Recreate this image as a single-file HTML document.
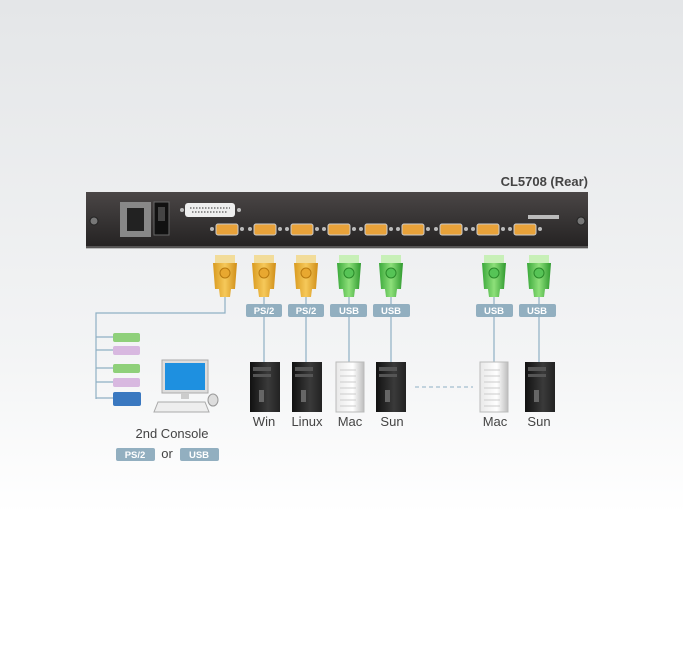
<!DOCTYPE html>
<html><head><style>
body{margin:0;width:683px;height:642px;overflow:hidden;font-family:"Liberation Sans",sans-serif}
</style></head><body>
<svg width="683" height="642" xmlns="http://www.w3.org/2000/svg" font-family="Liberation Sans, sans-serif">
<defs>
<linearGradient id="bg" x1="0" y1="0" x2="0" y2="1">
<stop offset="0" stop-color="#e4e6e8"/><stop offset="0.55" stop-color="#f3f4f5"/><stop offset="0.8" stop-color="#ffffff"/></linearGradient>
<linearGradient id="pn" x1="0" y1="0" x2="0" y2="1"><stop offset="0" stop-color="#4a4646"/><stop offset="1" stop-color="#242222"/></linearGradient>
<linearGradient id="or" x1="0" y1="0" x2="1" y2="0"><stop offset="0" stop-color="#d99a20"/><stop offset="0.5" stop-color="#f6c95a"/><stop offset="1" stop-color="#d08e18"/></linearGradient>
<linearGradient id="gr" x1="0" y1="0" x2="1" y2="0"><stop offset="0" stop-color="#3aa83a"/><stop offset="0.5" stop-color="#8ee07a"/><stop offset="1" stop-color="#2f9a2f"/></linearGradient>
<linearGradient id="pc" x1="0" y1="0" x2="1" y2="0"><stop offset="0" stop-color="#111"/><stop offset="0.6" stop-color="#3a3a3a"/><stop offset="1" stop-color="#222"/></linearGradient>
<linearGradient id="mac" x1="0" y1="0" x2="1" y2="0"><stop offset="0" stop-color="#e8e8e8"/><stop offset="0.6" stop-color="#ffffff"/><stop offset="1" stop-color="#bdbdbd"/></linearGradient>
<g id="port"><rect x="-11" y="-5" width="22" height="11" rx="2" fill="#e8a23a" stroke="#ccc" stroke-width="1"/><circle cx="-15" cy="0" r="2" fill="#bbb"/><circle cx="15" cy="0" r="2" fill="#bbb"/></g>
<g id="conO"><rect x="-10" y="0" width="20" height="8" fill="#f2dc9a"/><path d="M-12 8 H12 L10 34 H6 L5 42 H-5 L-6 34 H-10 Z" fill="url(#or)"/><circle cx="0" cy="18" r="5" fill="#e8a830" stroke="#b87a10"/></g>
<g id="conG"><rect x="-10" y="0" width="20" height="8" fill="#c8f0b8"/><path d="M-12 8 H12 L10 34 H6 L5 42 H-5 L-6 34 H-10 Z" fill="url(#gr)"/><circle cx="0" cy="18" r="5" fill="#56c456" stroke="#2a8a2a"/></g>
<g id="pcB"><rect x="0" y="0" width="30" height="50" fill="url(#pc)"/><rect x="3" y="5" width="18" height="4" fill="#555"/><rect x="3" y="12" width="18" height="3" fill="#555"/><rect x="9" y="28" width="5" height="12" fill="#666"/></g>
<g id="pcM"><rect x="0" y="0" width="28" height="50" fill="url(#mac)" stroke="#bbb"/><path d="M4 8 H20 M4 14 H20 M4 20 H20 M4 26 H20 M4 32 H20 M4 38 H20 M4 44 H20" stroke="#ccc"/></g>
</defs>
<rect width="683" height="642" fill="url(#bg)"/>
<text x="588" y="186" text-anchor="end" font-size="13" font-weight="bold" fill="#444">CL5708 (Rear)</text>
<rect x="86" y="192" width="502" height="56" fill="url(#pn)"/>
<rect x="86" y="246" width="502" height="3" fill="#888" opacity="0.5"/>
<circle cx="94" cy="221" r="4" fill="#777" stroke="#222"/><circle cx="581" cy="221" r="4" fill="#777" stroke="#222"/>
<rect x="120" y="202" width="31" height="35" fill="#888"/><rect x="127" y="208" width="17" height="23" fill="#222"/>
<rect x="154" y="202" width="15" height="33" fill="#111" stroke="#666"/><rect x="158" y="207" width="7" height="14" fill="#444"/>
<rect x="185" y="203" width="50" height="14" rx="3" fill="#eee"/><path d="M190 208 H230 M192 212 H228" stroke="#333" stroke-dasharray="1.5 1.5"/>
<circle cx="182" cy="210" r="2" fill="#bbb"/><circle cx="239" cy="210" r="2" fill="#bbb"/>
<use href="#port" x="227" y="229"/><use href="#port" x="265" y="229"/><use href="#port" x="302" y="229"/><use href="#port" x="339" y="229"/><use href="#port" x="376" y="229"/><use href="#port" x="413" y="229"/><use href="#port" x="451" y="229"/><use href="#port" x="488" y="229"/><use href="#port" x="525" y="229"/>
<rect x="528" y="215" width="31" height="4" fill="#bbb"/>
<g stroke="#8fb0c4" stroke-width="1.2" fill="none">
<path d="M225 297 V313 H96 V399"/>
<path d="M96 337 H113 M96 350 H113 M96 368 H113 M96 382 H113 M96 398 H113"/>
<path d="M264 297 V362 M306 297 V362 M349 297 V362 M391 297 V362 M494 297 V362 M539 297 V362"/>
</g>
<path d="M415 387 H473" stroke="#8fb0c4" stroke-dasharray="4 3"/>
<use href="#conO" x="225" y="255"/><use href="#conO" x="264" y="255"/><use href="#conO" x="306" y="255"/>
<use href="#conG" x="349" y="255"/><use href="#conG" x="391" y="255"/><use href="#conG" x="494" y="255"/><use href="#conG" x="539" y="255"/>
<g font-size="9.5" font-weight="bold" fill="#fff" text-anchor="middle">
<rect x="246" y="304" width="36" height="13" rx="2" fill="#92afc0"/><text x="264" y="314">PS/2</text>
<rect x="288" y="304" width="36" height="13" rx="2" fill="#92afc0"/><text x="306" y="314">PS/2</text>
<rect x="330" y="304" width="37" height="13" rx="2" fill="#92afc0"/><text x="349" y="314">USB</text>
<rect x="373" y="304" width="37" height="13" rx="2" fill="#92afc0"/><text x="391" y="314">USB</text>
<rect x="476" y="304" width="37" height="13" rx="2" fill="#92afc0"/><text x="494" y="314">USB</text>
<rect x="519" y="304" width="37" height="13" rx="2" fill="#92afc0"/><text x="537" y="314">USB</text>
<rect x="116" y="448" width="39" height="13" rx="2" fill="#92afc0"/><text x="135" y="458">PS/2</text>
<rect x="180" y="448" width="39" height="13" rx="2" fill="#92afc0"/><text x="199" y="458">USB</text>
</g>
<use href="#pcB" x="250" y="362"/><use href="#pcB" x="292" y="362"/><use href="#pcM" x="336" y="362"/><use href="#pcB" x="376" y="362"/><use href="#pcM" x="480" y="362"/><use href="#pcB" x="525" y="362"/>
<g font-size="13" fill="#444" text-anchor="middle">
<text x="264" y="426">Win</text><text x="307" y="426">Linux</text><text x="350" y="426">Mac</text><text x="392" y="426">Sun</text><text x="495" y="426">Mac</text><text x="539" y="426">Sun</text>
<text x="172" y="438">2nd Console</text><text x="167" y="458">or</text>
</g>
<rect x="113" y="333" width="27" height="9" rx="2" fill="#8fd07a"/><rect x="113" y="346" width="27" height="9" rx="2" fill="#d8b8e0"/>
<rect x="113" y="364" width="27" height="9" rx="2" fill="#8fd07a"/><rect x="113" y="378" width="27" height="9" rx="2" fill="#d8b8e0"/>
<rect x="113" y="392" width="28" height="14" rx="2" fill="#3a78c0"/>
<rect x="162" y="360" width="46" height="33" fill="#ddd" stroke="#aaa"/><rect x="165" y="363" width="40" height="27" fill="#1e90e0"/>
<rect x="181" y="393" width="8" height="6" fill="#ccc"/><path d="M158 402 H205 L209 412 H154 Z" fill="#eee" stroke="#aaa"/>
<ellipse cx="213" cy="400" rx="5" ry="6" fill="#ddd" stroke="#999"/>
</svg>
</body></html>
